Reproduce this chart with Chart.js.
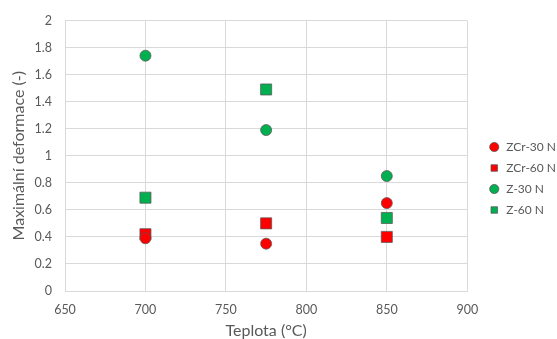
<!DOCTYPE html>
<html>
<head>
<meta charset="utf-8">
<script src="https://cdn.jsdelivr.net/npm/chart.js@4"></script>
<style>
  html, body { margin: 0; padding: 0; background: #fff; }
  #wrap { width: 557px; height: 339px; }
</style>
</head>
<body>
<div id="wrap"><canvas id="chart"></canvas></div>
<script>
const temps = [700, 775, 850];
const zcr30 = [0.39, 0.35, 0.65];
const zcr60 = [0.42, 0.50, 0.40];
const z30 = [1.74, 1.19, 0.85];
const z60 = [0.69, 1.49, 0.54];
const seriesNames = ['ZCr-30 N', 'ZCr-60 N', 'Z-30 N', 'Z-60 N'];

const grey = '#595959';
const gridColor = '#d9d9d9';
const red = '#ff0000';
const green = '#00b050';

function toPoints(values) {
    return temps.map((t, i) => ({x: t, y: values[i]}));
}

function makeSet(name, values, color, style, radius) {
    return {
        label: name,
        data: toPoints(values),
        backgroundColor: color,
        borderColor: '#555555',
        borderWidth: 0.75,
        pointStyle: style,
        pointRadius: radius,
        pointHoverRadius: radius
    };
}

const ctx = document.getElementById('chart').getContext('2d');
new Chart(ctx, {
    type: 'scatter',
    data: {
        datasets: [
            makeSet(seriesNames[0], zcr30, red, 'circle', 5.5),
            makeSet(seriesNames[1], zcr60, red, 'rect', 7.8),
            makeSet(seriesNames[2], z30, green, 'circle', 5.5),
            makeSet(seriesNames[3], z60, green, 'rect', 7.8)
        ]
    },
    options: {
        animation: false,
        responsive: true,
        maintainAspectRatio: false,
        layout: { autoPadding: false, padding: { top: 18, right: -9, left: 0, bottom: 0 } },
        plugins: {
            tooltip: { enabled: false },
            legend: {
                position: 'right',
                labels: {
                    usePointStyle: true,
                    boxHeight: 6.5,
                    padding: 9,
                    color: grey,
                    font: { family: 'Lato', size: 12 }
                }
            }
        },
        scales: {
            x: {
                type: 'linear',
                min: 650,
                max: 900,
                afterFit: s => { s.height = 48; },
                ticks: { stepSize: 50, color: grey, font: { family: 'Lato', size: 12.5 }, padding: 11 },
                grid: { color: gridColor, drawTicks: false },
                border: { color: gridColor },
                title: { display: true, text: 'Teplota (°C)', color: grey, font: { family: 'Lato', size: 16 }, padding: { top: 0, bottom: -1 } }
            },
            y: {
                min: 0,
                max: 2,
                afterFit: s => { s.width = 65; },
                ticks: {
                    stepSize: 0.2,
                    color: grey,
                    font: { family: 'Lato', size: 12.5 },
                    padding: 13,
                    callback: v => String(Number(v.toFixed(1)))
                },
                grid: { color: gridColor, drawTicks: false },
                border: { color: gridColor },
                title: { display: true, text: 'Maximální deformace (-)', color: grey, font: { family: 'Lato', size: 16 }, padding: { top: 9, bottom: 0 } }
            },
            gap: {
                position: 'right',
                display: true,
                afterFit: s => { s.width = 12; },
                ticks: { display: false },
                grid: { display: false },
                border: { display: false }
            }
        }
    }
});
</script>
</body>
</html>
